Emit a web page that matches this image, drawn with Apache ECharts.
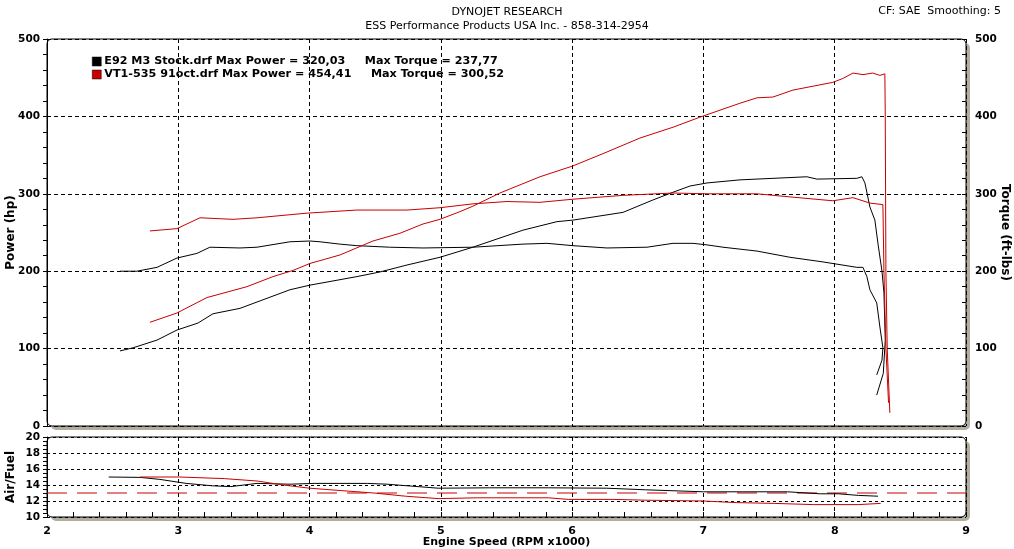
<!DOCTYPE html>
<html>
<head>
<meta charset="utf-8">
<script src="https://cdn.jsdelivr.net/npm/echarts@6/dist/echarts.min.js"></script>
<style>
html,body{margin:0;padding:0;background:#fff;}
#chart{width:1014px;height:549px;}
</style>
</head>
<body>
<div id="chart"></div>
<script>
// ---- Data (RPM x1000, value) ----
const runStockName = 'E92 M3 Stock.drf Max Power = 320,03     Max Torque = 237,77';
const runTunedName = 'VT1-535 91oct.drf Max Power = 454,41     Max Torque = 300,52';

const stockPower = [
  [2.556,97],[2.655,101],[2.838,111],[2.99,124],[3.15,133],[3.264,145],[3.47,152],[3.676,165],
  [3.85,176],[4.003,182],[4.133,186],[4.36,193],[4.536,199],[4.742,208],[4.993,218],[5.244,231],
  [5.625,253],[5.884,264],[6.006,266],[6.387,276],[6.615,292],[6.768,302],[6.897,310],[7.027,314],
  [7.278,318],[7.788,322],[7.864,319],[8.169,320],[8.207,322],[8.23,314],[8.268,283],[8.306,266],
  [8.33,235],[8.36,200],[8.375,172],[8.385,111],[8.37,68],[8.32,40]
];
const stockTorque = [
  [2.556,200],[2.685,200],[2.838,205],[2.99,217],[3.066,220],[3.142,223],[3.241,231],[3.47,230],
  [3.6,231],[3.85,238],[4.003,239],[4.08,238],[4.23,235],[4.36,233],[4.61,231],[4.864,230],
  [5.244,231],[5.625,235],[5.808,236],[6.006,233],[6.265,230],[6.57,231],[6.768,236],[6.92,236],
  [7.027,234],[7.149,231],[7.408,226],[7.659,218],[7.91,212],[8.169,205],[8.215,205],[8.245,193],
  [8.268,176],[8.32,159],[8.344,128],[8.367,101],[8.36,85],[8.32,66]
];
const tunedPower = [
  [2.784,134],[2.99,146],[3.15,160],[3.219,166],[3.523,180],[3.721,193],[3.874,201],[4.003,210],
  [4.232,221],[4.483,239],[4.688,249],[4.864,261],[4.993,267],[5.146,277],[5.244,284],[5.45,301],
  [5.755,322],[6.006,336],[6.265,354],[6.516,372],[6.768,386],[6.973,399],[7.278,417],[7.408,424],
  [7.529,425],[7.682,434],[7.986,444],[8.062,449],[8.139,456],[8.215,454],[8.29,456],[8.344,453],
  [8.382,455],[8.385,400],[8.39,200],[8.4,100],[8.42,17]
];
const tunedTorque = [
  [2.784,252],[2.99,255],[3.165,269],[3.417,267],[3.6,269],[3.98,275],[4.36,279],[4.742,279],
  [4.993,282],[5.244,287],[5.503,290],[5.755,289],[6.006,293],[6.387,298],[6.768,301],[7.027,300],
  [7.408,300],[7.659,296],[7.986,291],[8.139,295],[8.268,288],[8.367,286],[8.375,200],[8.39,100],[8.41,30]
];
const stockAFR = [
  [2.47,15.0],[2.71,14.95],[2.86,14.7],[3.06,14.2],[3.26,13.9],[3.4,13.8],[3.6,14.2],[3.85,14.1],
  [4.04,14.2],[4.44,14.2],[4.59,14.1],[4.98,13.6],[5.37,13.65],[5.82,13.65],[6.26,13.6],[6.56,13.4],
  [7.0,13.15],[7.3,13.15],[7.64,13.15],[7.89,12.9],[8.03,12.9],[8.18,12.7],[8.33,12.6]
];
const tunedAFR = [
  [2.71,15.0],[3.01,15.0],[3.35,14.8],[3.6,14.5],[3.8,14.0],[4.0,13.6],[4.24,13.3],[4.49,13.0],
  [4.73,12.6],[4.98,12.3],[5.28,12.4],[5.82,12.4],[5.97,12.2],[6.31,12.2],[6.56,12.1],[7.0,12.0],
  [7.25,11.8],[7.54,11.7],[7.84,11.55],[8.18,11.55],[8.35,11.7]
];
const afrTarget = 13;
const rpmRange = [2, 9];
const powerRange = [0, 500];
const afrRange = [10, 20];

// ---- Styles ----
const RED = '#c80000';
const BLACK = '#000000';
const lblFont = {fontFamily:'DejaVu Sans', fontWeight:'bold', fontSize:10.5, color:'#000'};
const nameFont = {fontFamily:'DejaVu Sans', fontWeight:'bold', fontSize:12, color:'#000'};
const dashGrid = {show:true, lineStyle:{color:'#000', width:1, type:[4,3]}};
const dotGrid = {show:true, lineStyle:{color:'#000', width:1, type:[3,3]}};

const chart = echarts.init(document.getElementById('chart'), null, {renderer:'canvas'});

function lineSeries(name, data, color, xi, yi, extra) {
  return Object.assign({
    name: name, type:'line', data: data, xAxisIndex: xi, yAxisIndex: yi,
    showSymbol:false, symbol:'none', smooth:false,
    lineStyle:{color: color, width:1}, itemStyle:{color: color},
    animation:false, silent:true, z:3
  }, extra || {});
}

const option = {
  animation:false,
  backgroundColor:'#fff',
  title:[
    {text:'DYNOJET RESEARCH', subtext:'ESS Performance Products USA Inc. - 858-314-2954',
     left:'center', top:2, itemGap:3,
     textStyle:{fontFamily:'DejaVu Sans', fontSize:11, fontWeight:'normal', color:'#000'},
     subtextStyle:{fontFamily:'DejaVu Sans', fontSize:11, color:'#000'}},
    {text:'CF: SAE  Smoothing: 5', right:8, top:1,
     textStyle:{fontFamily:'DejaVu Sans', fontSize:11, fontWeight:'normal', color:'#000'}}
  ],
  legend:{
    orient:'vertical', left:92, top:56, padding:0, itemWidth:9, itemHeight:9, itemGap:2,
    icon:'rect', selectedMode:false,
    textStyle:{fontFamily:'DejaVu Sans', fontWeight:'bold', fontSize:11.2, color:'#000', padding:[0,0,0,-2]},
    itemStyle:{borderColor:'#000', borderWidth:0.5},
    data:[runStockName, runTunedName]
  },
  graphic:[
    {type:'rect', z:-10, silent:true, shape:{x:51,y:43,width:919,height:387,r:5}, style:{fill:'#b1ae9f'}},
    {type:'rect', z:-9, silent:true, shape:{x:47,y:39,width:919,height:387,r:5}, style:{fill:'#fff', stroke:'#000', lineWidth:1}},
    {type:'rect', z:-10, silent:true, shape:{x:51,y:441,width:919,height:80,r:5}, style:{fill:'#b1ae9f'}},
    {type:'rect', z:-9, silent:true, shape:{x:47,y:437,width:919,height:80,r:5}, style:{fill:'#fff', stroke:'#000', lineWidth:1}}
  ],
  grid:[
    {left:47, top:39, width:919, height:387, containLabel:false, outerBoundsMode:'none'},
    {left:47, top:437, width:919, height:80, containLabel:false, outerBoundsMode:'none'}
  ],
  xAxis:[
    {type:'value', gridIndex:0, min:rpmRange[0], max:rpmRange[1], interval:1,
     axisLine:{show:false}, axisTick:{show:false}, minorTick:{show:false}, axisLabel:{show:false},
     splitLine:dashGrid},
    {type:'value', gridIndex:1, min:rpmRange[0], max:rpmRange[1], interval:1,
     axisLine:{show:false},
     axisTick:{show:true, inside:true, length:5, lineStyle:{color:'#000'}},
     minorTick:{show:true, splitNumber:5, length:5, lineStyle:{color:'#000'}},
     axisLabel:Object.assign({margin:9}, lblFont, {fontSize:11}),
     splitLine:dashGrid,
     name:'Engine Speed (RPM x1000)', nameLocation:'middle', nameGap:20, nameMoveOverlap:false,
     nameTextStyle:{fontFamily:'DejaVu Sans', fontWeight:'bold', fontSize:11, color:'#000', verticalAlign:'top'}}
  ],
  yAxis:[
    {type:'value', gridIndex:0, position:'left', min:powerRange[0], max:powerRange[1], interval:100,
     axisLine:{show:true, lineStyle:{color:'#000'}},
     axisTick:{show:true, length:4, lineStyle:{color:'#000'}},
     minorTick:{show:true, splitNumber:5, length:4, lineStyle:{color:'#000'}},
     axisLabel:Object.assign({margin:7}, lblFont),
     splitLine:dashGrid,
     name:'Power (hp)', nameLocation:'middle', nameGap:30, nameRotate:90, nameMoveOverlap:false,
     nameTextStyle:nameFont},
    {type:'value', gridIndex:0, position:'right', min:powerRange[0], max:powerRange[1], interval:100,
     axisLine:{show:false},
     axisTick:{show:true, inside:true, length:4, lineStyle:{color:'#000'}},
     minorTick:{show:true, splitNumber:5, length:4, lineStyle:{color:'#000'}},
     axisLabel:Object.assign({margin:9}, lblFont),
     splitLine:{show:false},
     name:'Torque (ft-lbs)', nameLocation:'middle', nameGap:33, nameRotate:-90, nameMoveOverlap:false,
     nameTextStyle:nameFont},
    {type:'value', gridIndex:1, position:'left', min:afrRange[0], max:afrRange[1], interval:2,
     axisLine:{show:true, lineStyle:{color:'#000'}},
     axisTick:{show:true, length:4, lineStyle:{color:'#000'}},
     minorTick:{show:true, splitNumber:4, length:4, lineStyle:{color:'#000'}},
     axisLabel:Object.assign({margin:7}, lblFont),
     splitLine:dotGrid,
     name:'Air/Fuel', nameLocation:'middle', nameGap:30, nameRotate:90, nameMoveOverlap:false,
     nameTextStyle:nameFont}
  ],
  series:[
    lineSeries(runStockName, stockPower, BLACK, 0, 0),
    lineSeries(runStockName, stockTorque, BLACK, 0, 1),
    lineSeries(runTunedName, tunedPower, RED, 0, 0),
    lineSeries(runTunedName, tunedTorque, RED, 0, 1),
    lineSeries(runStockName, stockAFR, BLACK, 1, 2),
    lineSeries(runTunedName, tunedAFR, RED, 1, 2),
    lineSeries('AFR target', [[rpmRange[0], afrTarget],[rpmRange[1], afrTarget]], RED, 1, 2,
      {lineStyle:{color:RED, width:1.2, type:[20,10]}, z:2})
  ]
};
chart.setOption(option);
</script>
</body>
</html>
